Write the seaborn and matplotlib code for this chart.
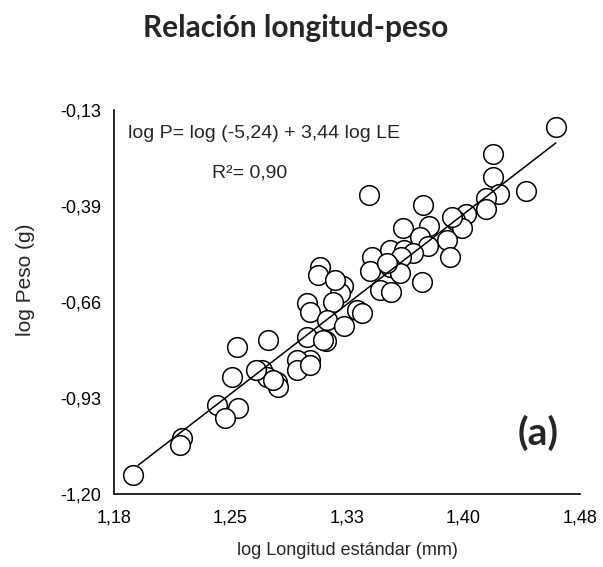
import numpy as np
import pandas as pd
import matplotlib
matplotlib.use("Agg")
import matplotlib.pyplot as plt
import seaborn as sns

# --- data ---
log_le = [1.4645, 1.4240, 1.4240, 1.4452, 1.4279, 1.4195, 1.4195, 1.3443, 1.3790, 1.4067,
          1.3996, 1.4041, 1.3661, 1.3829, 1.3771, 1.3944, 1.3822, 1.3964, 1.3977, 1.3578,
          1.3668, 1.3726, 1.3462, 1.3649, 1.3449, 1.3578, 1.3642, 1.3784, 1.3514, 1.3584,
          1.3128, 1.3115, 1.3276, 1.3256, 1.3211, 1.3044, 1.3063, 1.3366, 1.3398, 1.3173,
          1.3282, 1.3166, 1.3044, 1.2793, 1.2594, 1.3063, 1.2980, 1.2562, 1.2755, 1.2787,
          1.2851, 1.2858, 1.2980, 1.3063, 1.2826, 1.2466, 1.2601, 1.2517, 1.2240, 1.2228,
          1.1925, 1.3559, 1.3224, 1.2716, 1.3147]
log_p = [-0.1774, -0.2526, -0.3167, -0.3557, -0.3641, -0.3752, -0.4059, -0.3669, -0.3947, -0.4198,
         -0.4365, -0.4588, -0.4588, -0.4532, -0.4839, -0.4922, -0.5090, -0.5396, -0.4282, -0.5201,
         -0.5201, -0.5285, -0.5396, -0.5396, -0.5786, -0.5675, -0.5842, -0.6093, -0.6316, -0.6371,
         -0.5675, -0.5898, -0.6204, -0.6399, -0.6650, -0.6678, -0.6929, -0.6873, -0.6957, -0.7152,
         -0.7319, -0.7737, -0.7625, -0.7709, -0.7904, -0.8266, -0.8266, -0.8740, -0.8545, -0.8740,
         -0.8879, -0.9019, -0.8545, -0.8406, -0.8824, -0.9520, -0.9604, -0.9882, -1.0440, -1.0635,
         -1.1471, -0.5563, -0.6037, -0.8545, -0.7709]

fit_intercept = -5.113
fit_slope = 3.34

x_ticks = [1.18, 1.255, 1.33, 1.405, 1.48]
x_ticklabels = ["1,18", "1,25", "1,33", "1,40", "1,48"]
y_ticks = [-1.20, -0.9325, -0.665, -0.3975, -0.13]
y_ticklabels = ["-1,20", "-0,93", "-0,66", "-0,39", "-0,13"]

title = "Relación longitud-peso"
equation = "log P= log (-5,24) + 3,44 log LE"
r2_text = "R²= 0,90"
panel = "(a)"

df = pd.DataFrame({"log_le": log_le, "log_p": log_p})
xl = np.array([min(log_le) + 0.003, max(log_le)])
line_df = pd.DataFrame({"x": xl, "y": fit_intercept + fit_slope * xl})

sns.set_style("white")
plt.rcParams["font.family"] = ["Liberation Sans", "DejaVu Sans"]

fig = plt.figure(figsize=(6.03, 5.67), dpi=100)
ax = fig.add_axes([114 / 603, 1 - 494 / 567, (580 - 114) / 603, (494 - 110) / 567])

sns.scatterplot(data=df, x="log_le", y="log_p", ax=ax, s=200, facecolor="white",
                edgecolor="black", linewidth=1.1, zorder=2, legend=False)
sns.lineplot(data=line_df, x="x", y="y", ax=ax, color="black", linewidth=1.1, zorder=3)

ax.set_xlim(1.18, 1.48)
ax.set_ylim(-1.20, -0.13)
ax.set_xticks(x_ticks)
ax.set_xticklabels(x_ticklabels)
ax.set_yticks(y_ticks)
ax.set_yticklabels(y_ticklabels)
ax.tick_params(direction="in", length=6, width=1.2, labelsize=13, colors="black", pad=9)
ax.tick_params(axis="x", pad=11)
for s in ["top", "right"]:
    ax.spines[s].set_visible(False)
for s in ["left", "bottom"]:
    ax.spines[s].set_color("black")
    ax.spines[s].set_linewidth(1.2)

ax.set_xlabel("log Longitud estándar (mm)", fontsize=13)
ax.set_ylabel("log Peso (g)", fontsize=15)
ax.xaxis.set_label_coords(0.5, -0.146)
ax.yaxis.set_label_coords(-0.189, 0.557)
ax.xaxis.label.set_va("center")
ax.yaxis.label.set_va("center")

ax.text(0.03, 0.94, equation, transform=ax.transAxes, fontsize=14, va="center", ha="left")
ax.text(0.21, 0.835, r2_text, transform=ax.transAxes, fontsize=14, va="center", ha="left")
ax.text(0.91, 0.16, panel, transform=ax.transAxes, fontsize=28, fontweight="bold",
        va="center", ha="center", family=["Lato", "DejaVu Sans"])

fig.text(296 / 603, 1 - 37 / 567, title, fontsize=21.5, fontweight="bold", ha="center",
         va="baseline", family=["Lato", "DejaVu Sans"])

fig.savefig("out.png", dpi=100, facecolor="white")
